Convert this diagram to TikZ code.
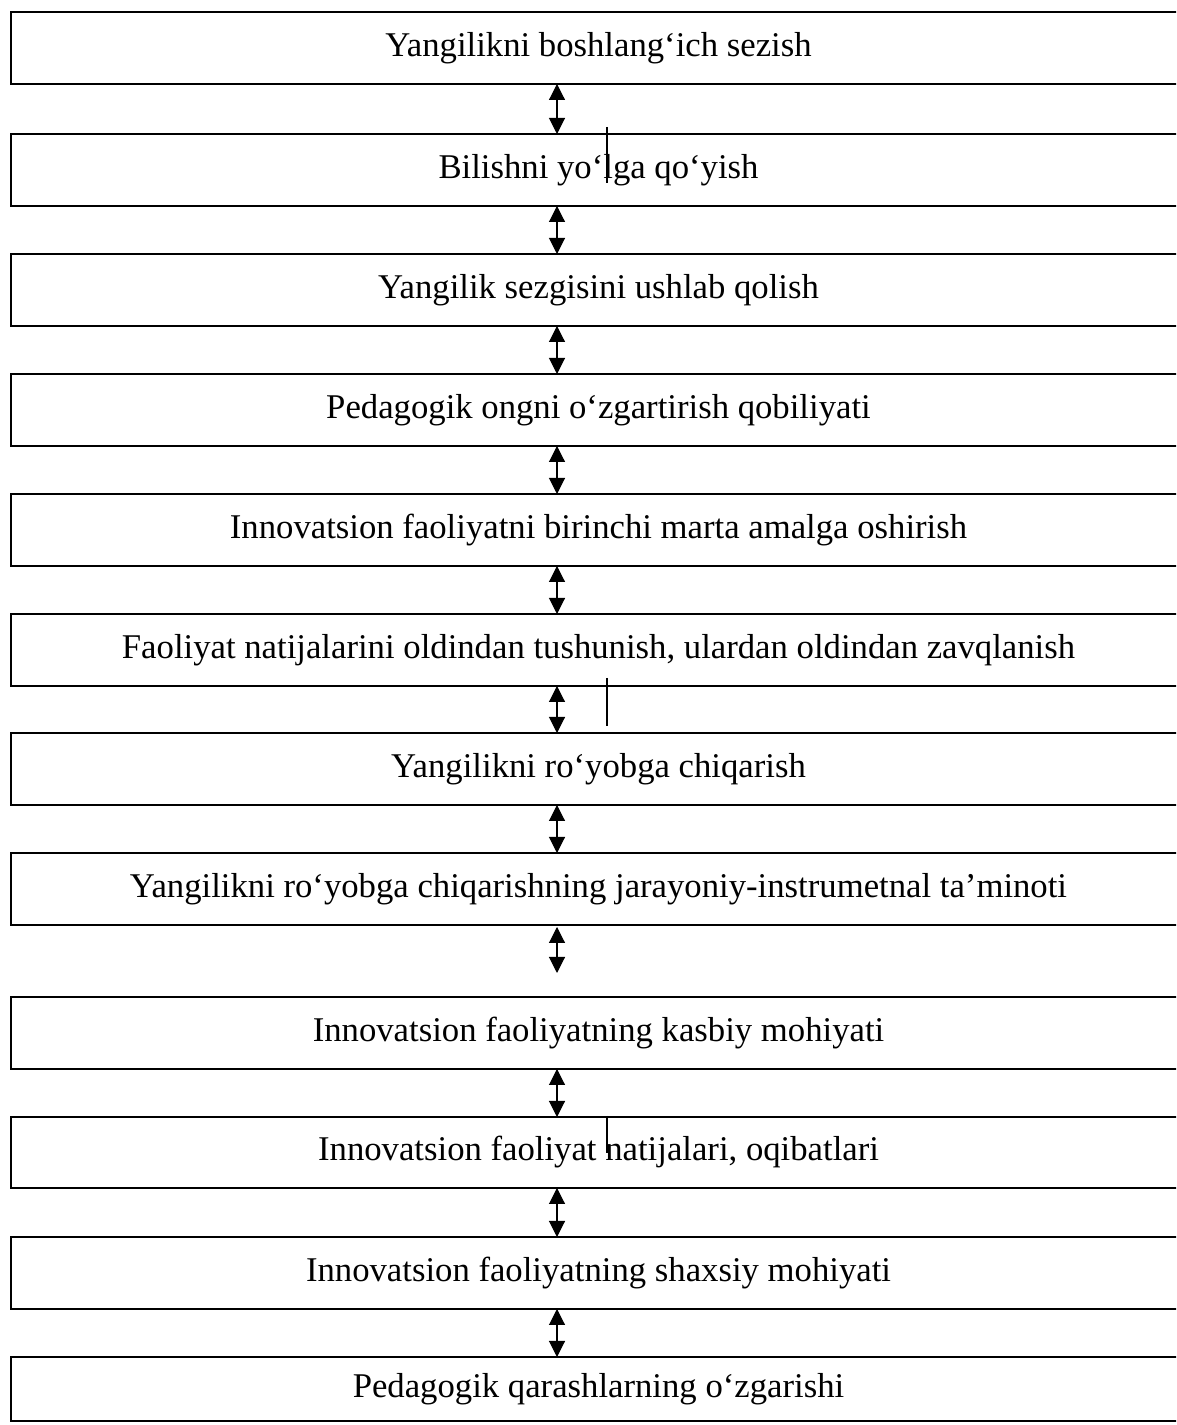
\documentclass[tikz,border=0pt]{standalone}
\usepackage{fontspec}
\setmainfont{Liberation Serif}
\usetikzlibrary{arrows.meta}
\begin{document}
\begin{tikzpicture}[x=1pt,y=1pt,
  box/.style={draw, line width=1.4pt, rectangle, inner sep=0pt, outer sep=0pt,
    minimum width=1175pt, minimum height=72pt,
    font=\fontsize{34.7}{40}\selectfont},
  arr/.style={line width=1.1pt, {Triangle[width=16pt,length=16pt]}-{Triangle[width=16pt,length=16pt]}},
  tick/.style={line width=1.1pt}]
\useasboundingbox (0,0) rectangle (1176,1425);
\clip (0,0) rectangle (1176,1425);
\fill[white] (0,0) rectangle (1176,1425);
\node[box] (b1) at (598.5,1425-48) {Yangilikni boshlang‘ich sezish};
\node[box] (b2) at (598.5,1425-170) {Bilishni yo‘lga qo‘yish};
\node[box] (b3) at (598.5,1425-290) {Yangilik sezgisini ushlab qolish};
\node[box] (b4) at (598.5,1425-410) {Pedagogik ongni o‘zgartirish qobiliyati};
\node[box] (b5) at (598.5,1425-530) {Innovatsion faoliyatni birinchi marta amalga oshirish};
\node[box] (b6) at (598.5,1425-650) {Faoliyat natijalarini oldindan tushunish, ulardan oldindan zavqlanish};
\node[box] (b7) at (598.5,1425-769) {Yangilikni ro‘yobga chiqarish};
\node[box] (b8) at (598.5,1425-889) {Yangilikni ro‘yobga chiqarishning jarayoniy-instrumetnal ta’minoti};
\node[box] (b9) at (598.5,1425-1033) {Innovatsion faoliyatning kasbiy mohiyati};
\node[box,minimum height=71pt] (b10) at (598.5,1425-1152.5) {Innovatsion faoliyat natijalari, oqibatlari};
\node[box] (b11) at (598.5,1425-1273) {Innovatsion faoliyatning shaxsiy mohiyati};
\node[box,minimum height=64pt] (b12) at (598.5,1425-1389) {Pedagogik qarashlarning o‘zgarishi};
\coordinate (ax) at (557,0);
\draw[arr] (b1.south -| ax) -- (b2.north -| ax);
\draw[arr] (b2.south -| ax) -- (b3.north -| ax);
\draw[arr] (b3.south -| ax) -- (b4.north -| ax);
\draw[arr] (b4.south -| ax) -- (b5.north -| ax);
\draw[arr] (b5.south -| ax) -- (b6.north -| ax);
\draw[arr] (b6.south -| ax) -- (b7.north -| ax);
\draw[arr] (b7.south -| ax) -- (b8.north -| ax);
\coordinate (e89a) at (557,1425-927);
\coordinate (e89b) at (557,1425-973);
\draw[arr] (e89a) -- (e89b);
\draw[arr] (b9.south -| ax) -- (b10.north -| ax);
\draw[arr] (b10.south -| ax) -- (b11.north -| ax);
\draw[arr] (b11.south -| ax) -- (b12.north -| ax);
\coordinate (t1a) at (607,1425-127);
\coordinate (t1b) at (607,1425-183);
\coordinate (t2a) at (607,1425-678);
\coordinate (t2b) at (607,1425-726);
\coordinate (t3a) at (607,1425-1116);
\coordinate (t3b) at (607,1425-1153);
\draw[tick] (t1a) -- (t1b);
\draw[tick] (t2a) -- (t2b);
\draw[tick] (t3a) -- (t3b);
\end{tikzpicture}
\end{document}
